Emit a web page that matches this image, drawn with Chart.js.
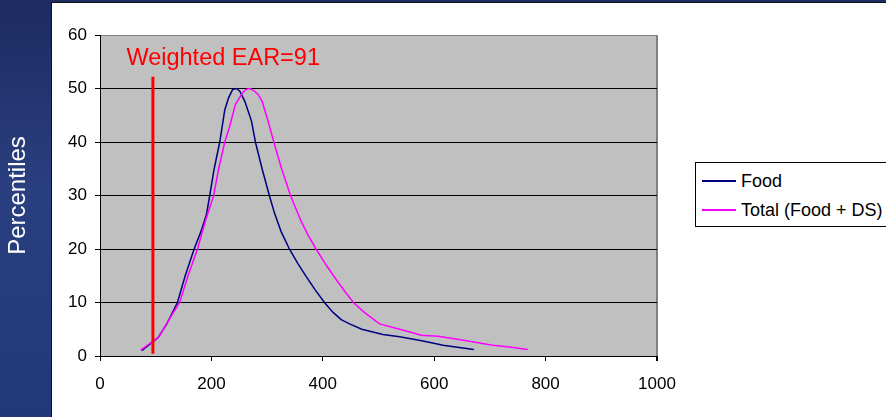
<!DOCTYPE html>
<html>
<head>
<meta charset="utf-8">
<script src="https://cdn.jsdelivr.net/npm/chart.js@4.4.0/dist/chart.umd.min.js"></script>
<style>
  html, body { margin: 0; padding: 0; }
  body {
    width: 886px; height: 417px; position: relative; overflow: hidden;
    background: linear-gradient(180deg, #1c2b60 0%, #2a3f7f 45%, #233877 100%);
    font-family: "Liberation Sans", Arial, sans-serif;
  }
  #panel {
    position: absolute; left: 51px; top: 2px; width: 835px; height: 415px;
    background: #fff; border-left: 1px solid #111; border-top: 1px solid #111;
    box-sizing: border-box;
  }
  #chart { position: absolute; left: 0; top: 0; }
  #legend {
    position: absolute; left: 695px; top: 162px; width: 200px; height: 65px;
    border: 1px solid #000; background: #fff; box-sizing: border-box;
  }
  .item { position: absolute; left: 6px; height: 20px; font-size: 18px; color: #000; line-height: 20px; white-space: nowrap; }
  .item span { display: inline-block; width: 34px; height: 2px; vertical-align: middle; margin-right: 5px; position: relative; top: -1px; }
</style>
</head>
<body>
<div id="panel"></div>
<canvas id="chart" width="886" height="417"></canvas>
<div id="legend"></div>
<script>
// values
const foodX = [75, 104, 120, 139, 153, 169, 181, 191, 197, 205, 215, 224, 231, 238, 245, 251, 260, 272, 279, 291, 304, 313, 325, 340, 355, 370, 386, 403, 418, 433, 448, 470, 508, 538, 580, 616, 645, 671];
const foodY = [1.0, 3.4, 6.0, 10, 15, 20, 23.2, 26.4, 30, 35, 40, 46, 48.3, 49.8, 50, 49.5, 47.6, 43.9, 40, 35, 30, 26.8, 23.3, 20, 17.3, 14.9, 12.4, 10, 8.2, 6.8, 6.0, 5.0, 4.0, 3.6, 2.8, 2.0, 1.6, 1.2];

const totalX = [73, 106, 125, 143, 158, 175, 190, 204, 213, 224, 233, 243, 254, 261, 269, 276, 284, 291, 301, 312, 326, 342, 361, 374, 388, 406, 424, 440, 455, 475, 502, 538, 577, 607, 650, 705, 735, 768];
const totalY = [1.1, 3.6, 7.0, 10, 15, 20, 25.5, 30, 35, 40, 43, 47, 48.9, 49.8, 50, 49.6, 48.9, 47.6, 44.2, 40, 35, 30, 25.2, 22.5, 20, 17, 14.3, 12, 10, 8.1, 6.0, 5.0, 3.9, 3.7, 3.0, 2.0, 1.7, 1.2];

const seriesNames = ["Food", "Total (Food + DS)"];
const seriesColors = ["#000080", "#ff00ff"];

const earValue = 91;
const earLineX = 95;          // where the marker sits in the picture
const earLineY = [0.4, 52.2];
const earLabel = "Weighted EAR=" + earValue;

const xTicks = { min: 0, max: 1000, step: 200 };
const yTicks = { min: 0, max: 60, step: 10 };

const FONT = '"Liberation Sans", Arial, sans-serif';

function toPoints(xs, ys) {
    return xs.map((x, i) => ({ x: x, y: ys[i] }));
}

const plotBg = {
    id: "plotBg",
    beforeDraw(chart) {
        const { ctx, chartArea: a } = chart;
        ctx.save();
        ctx.fillStyle = "#c0c0c0";
        ctx.fillRect(a.left, a.top, a.right - a.left, a.bottom - a.top);
        ctx.restore();
    }
};

const earText = {
    id: "earText",
    afterDatasetsDraw(chart) {
        const { ctx, scales } = chart;
        ctx.save();
        ctx.fillStyle = "#ff0000";
        ctx.font = "23.5px " + FONT;
        ctx.textBaseline = "alphabetic";
        ctx.fillText(earLabel, scales.x.getPixelForValue(earLineX) - 26.5, 65);
        ctx.restore();
    }
};

const ctx = document.getElementById("chart").getContext("2d");
new Chart(ctx, {
    type: "scatter",
    data: {
        datasets: [
            {
                label: "EAR",
                data: toPoints([earLineX, earLineX], earLineY),
                showLine: true,
                borderColor: "#ff0000",
                borderWidth: 3,
                pointRadius: 0,
            },
            {
                label: seriesNames[1],
                data: toPoints(totalX, totalY),
                showLine: true,
                borderColor: seriesColors[1],
                borderWidth: 1.5,
                pointRadius: 0,
                tension: 0,
            },
            {
                label: seriesNames[0],
                data: toPoints(foodX, foodY),
                showLine: true,
                borderColor: seriesColors[0],
                borderWidth: 1.5,
                pointRadius: 0,
                tension: 0,
            },
        ],
    },
    options: {
        responsive: false,
        animation: false,
        devicePixelRatio: 1,
        layout: { padding: { left: 0, top: 35, right: 229, bottom: 0 } },
        plugins: { legend: { display: false }, tooltip: { enabled: false } },
        scales: {
            x: {
                type: "linear",
                min: xTicks.min, max: xTicks.max,
                ticks: {
                    stepSize: xTicks.step, color: "#000", font: { size: 17, family: FONT }, padding: 13, maxRotation: 0,
                    callback: (v) => String(v),
                },
                grid: {
                    color: (c) => (c.tick && c.tick.value === xTicks.max ? "#808080" : "rgba(0,0,0,0)"),
                    lineWidth: (c) => (c.tick && c.tick.value === xTicks.max ? 2 : 1),
                    tickColor: "#000",
                    tickLength: 5,
                },
                border: { color: "#000", width: 1 },
                afterFit: (s) => { s.height = 61; },
            },
            y: {
                min: yTicks.min, max: yTicks.max,
                ticks: { stepSize: yTicks.step, color: "#000", font: { size: 17, family: FONT }, padding: 8 },
                grid: {
                    color: (c) => (c.tick && c.tick.value === yTicks.max ? "#808080" : "#000"),
                    tickColor: "#000",
                    tickLength: 5,
                },
                border: { color: "#000", width: 1 },
                title: { display: true, text: "Percentiles", color: "#fff", font: { size: 24, family: FONT }, padding: { top: 4, bottom: 0 } },
                afterFit: (s) => { s.width = 100; },
            },
        },
    },
    plugins: [plotBg, earText],
});

// legend
const legend = document.getElementById("legend");
seriesNames.forEach((name, i) => {
    const row = document.createElement("div");
    row.className = "item";
    row.style.top = (8 + i * 28.5) + "px";
    const swatch = document.createElement("span");
    swatch.style.background = seriesColors[i];
    row.appendChild(swatch);
    row.appendChild(document.createTextNode(name));
    legend.appendChild(row);
});
</script>
</body>
</html>
